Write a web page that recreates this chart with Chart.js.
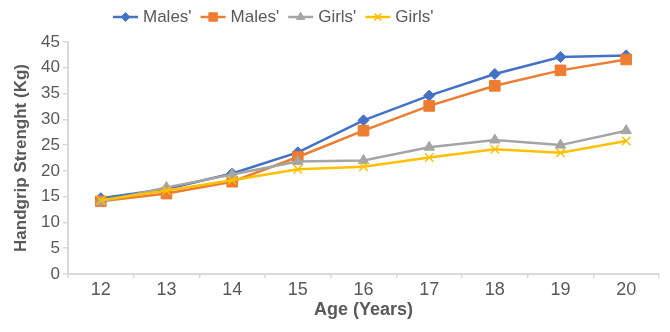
<!DOCTYPE html>
<html>
<head>
<meta charset="utf-8">
<script src="https://cdn.jsdelivr.net/npm/chart.js@4.4.1/dist/chart.umd.min.js"></script>
<style>
  html, body { margin: 0; padding: 0; background: #fff; }
  #wrap { width: 670px; height: 332px; }
</style>
</head>
<body>
<div id="wrap"><canvas id="grip"></canvas></div>
<script>
const ages = ['12','13','14','15','16','17','18','19','20'];
const malesA = [14.7, 16.5, 19.5, 23.6, 29.8, 34.6, 38.8, 42.1, 42.4];
const malesB = [14.1, 15.6, 17.9, 22.7, 27.8, 32.6, 36.5, 39.5, 41.6];
const girlsA = [14.0, 16.8, 19.3, 21.8, 22.0, 24.6, 26.0, 25.0, 27.8];
const girlsB = [14.3, 16.2, 18.2, 20.3, 20.8, 22.6, 24.2, 23.5, 25.8];
const seriesNames = ["Males'", "Males'", "Girls'", "Girls'"];
const yTicks = [0, 5, 10, 15, 20, 25, 30, 35, 40, 45];

const textColor = '#595959';
const axisColor = '#D9D9D9';
const font = 'Liberation Sans, Arial, sans-serif';

const styles = [
  { color: '#4472C4', point: 'rectRot', r: 5.5 },
  { color: '#ED7D31', point: 'rect', r: 7.5 },
  { color: '#A5A5A5', point: 'triangle', r: 6 },
  { color: '#FFC000', point: 'crossRot', r: 6 }
];

const mk = (i, data) => ({
  label: seriesNames[i],
  data,
  borderColor: styles[i].color,
  backgroundColor: styles[i].color,
  pointBorderColor: styles[i].color,
  pointBackgroundColor: styles[i].color,
  pointStyle: styles[i].point,
  pointRadius: styles[i].r,
  pointBorderWidth: styles[i].point === 'crossRot' ? 1.5 : 1,
  borderWidth: 2.5,
  tension: 0,
  order: 4 - i
});

// legend drawn by hand: line + marker, like the office legend
const legendLine = {
  id: 'legendLine',
  afterDraw(chart) {
    const ctx = chart.ctx;
    ctx.save();
    ctx.font = '17px ' + font;
    ctx.textBaseline = 'middle';
    let x = 113;
    const y = 17;
    chart.data.datasets.forEach((ds, i) => {
      const st = styles[i];
      ctx.strokeStyle = st.color;
      ctx.lineWidth = 2.5;
      ctx.beginPath();
      ctx.moveTo(x, y);
      ctx.lineTo(x + 25, y);
      ctx.stroke();
      ctx.fillStyle = st.color;
      ctx.lineWidth = st.point === 'crossRot' ? 1.5 : 1;
      Chart.helpers.drawPoint(ctx, { pointStyle: st.point, radius: st.r * 0.8, rotation: 0, borderWidth: 1 }, x + 12.5, y);
      ctx.fillStyle = textColor;
      ctx.fillText(ds.label, x + 30, y);
      x += 30 + ctx.measureText(ds.label).width + 9;
    });
    ctx.restore();
  }
};

new Chart(document.getElementById('grip'), {
  type: 'line',
  data: {
    labels: ages,
    datasets: [mk(0, malesA), mk(1, malesB), mk(2, girlsA), mk(3, girlsB)]
  },
  options: {
    responsive: true,
    maintainAspectRatio: false,
    animation: false,
    layout: { padding: { top: 42, right: 11, left: 0, bottom: 0 } },
    plugins: { legend: { display: false }, tooltip: { enabled: false } },
    scales: {
      x: {
        offset: true,
        grid: { offset: true, drawOnChartArea: false, drawTicks: true, tickLength: 4, color: axisColor, lineWidth: 1.5 },
        border: { color: axisColor, width: 2 },
        ticks: { color: textColor, font: { family: font, size: 18 }, padding: 1, maxRotation: 0 },
        title: { display: true, text: 'Age (Years)', color: textColor, font: { family: font, size: 18, weight: 'bold' }, padding: { top: 0, bottom: 11 } },
        afterFit(s) { s.height = 58; }
      },
      y: {
        min: 0,
        max: 45,
        afterBuildTicks(s) { s.ticks = yTicks.map(v => ({ value: v })); },
        grid: { drawOnChartArea: false, drawTicks: true, tickLength: 5, color: axisColor, lineWidth: 1.5 },
        border: { color: axisColor, width: 2 },
        ticks: { color: textColor, font: { family: font, size: 17 }, padding: 3 },
        title: { display: true, text: 'Handgrip Strenght (Kg)', color: textColor, font: { family: font, size: 17, weight: 'bold' }, padding: { top: 11, bottom: 0 } },
        afterFit(s) { s.width = 68; }
      }
    }
  },
  plugins: [legendLine]
});
</script>
</body>
</html>
